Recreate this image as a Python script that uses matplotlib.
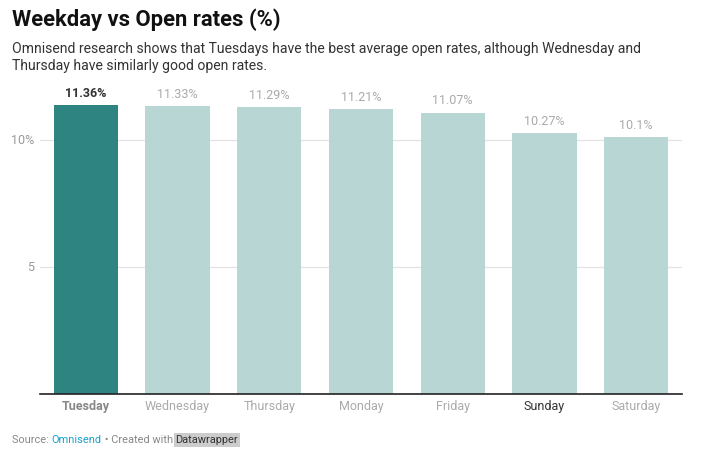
import matplotlib.pyplot as plt
import numpy as np

plt.rcParams['font.family'] = ['Roboto', 'DejaVu Sans']

days = ['Tuesday', 'Wednesday', 'Thursday', 'Monday', 'Friday', 'Sunday', 'Saturday']
open_rates = [11.36, 11.33, 11.29, 11.21, 11.07, 10.27, 10.1]
rate_labels = ['11.36%', '11.33%', '11.29%', '11.21%', '11.07%', '10.27%', '10.1%']
y_ticks = [5, 10]
y_tick_labels = ['5', '10%']

dark = '#2d8480'
light = '#b7d6d4'

fig = plt.figure(figsize=(7.25, 4.65), dpi=100)
ax = fig.add_axes([40 / 725, 71 / 465, 642 / 725, 299.7 / 465])

x = np.arange(len(days))
colors = [dark] + [light] * (len(days) - 1)
ax.bar(x, open_rates, width=0.7, color=colors, zorder=2)

ax.set_xlim(-0.5, len(days) - 0.5)
ax.set_ylim(0, 11.8)

# gridlines
for t in y_ticks:
    ax.axhline(t, color='#e3e3e3', linewidth=0.9, zorder=1)
ax.set_yticks([])
for t, lab in zip(y_ticks, y_tick_labels):
    ax.text(-0.56, t, lab, ha='right', va='center', fontsize=9, color='#999999')

# value labels
for i, (v, lab) in enumerate(zip(open_rates, rate_labels)):
    if i == 0:
        ax.text(i, v + 0.22, lab, ha='center', va='bottom', fontsize=9,
                color='#333333', fontweight='bold')
    else:
        ax.text(i, v + 0.22, lab, ha='center', va='bottom', fontsize=9,
                color='#aaaaaa')

# x labels
ax.set_xticks([])
for i, d in enumerate(days):
    if i == 0:
        c, w = '#888888', 'bold'
    elif d == 'Sunday':
        c, w = '#333333', 'normal'
    else:
        c, w = '#aaaaaa', 'normal'
    ax.text(i, -0.25, d, ha='center', va='top', fontsize=9, color=c, fontweight=w)

for s in ['top', 'right', 'left']:
    ax.spines[s].set_visible(False)
ax.spines['bottom'].set_color('#222222')
ax.spines['bottom'].set_linewidth(1.2)
ax.spines['bottom'].set_zorder(3)

# title and subtitle
fig.text(12 / 725, 1 - 20 / 465, 'Weekday vs Open rates (%)', fontsize=15.8,
         fontweight='bold', color='#111111', va='center', ha='left')
fig.text(12 / 725, 1 - 42 / 465,
         'Omnisend research shows that Tuesdays have the best average open rates, although Wednesday and\n'
         'Thursday have similarly good open rates.',
         fontsize=10.05, color='#333333', va='top', ha='left', linespacing=1.3)

# footer
t1 = fig.text(12 / 725, 1 - 440 / 465, 'Source: ', fontsize=7.9, color='#888888', va='center')
t2 = fig.text(0, 0, 'Omnisend', fontsize=7.9, color='#18a1cd', va='center')
t3 = fig.text(0, 0, ' \u2022 Created with ', fontsize=7.9, color='#888888', va='center')
fig.canvas.draw()
r = fig.canvas.get_renderer()
bb = t1.get_window_extent(r)
t2.set_position((bb.x1 / 725, 1 - 440 / 465))
bb = t2.get_window_extent(r)
t3.set_position((bb.x1 / 725, 1 - 440 / 465))
bb = t3.get_window_extent(r)
fig.text(bb.x1 / 725, 1 - 440 / 465, 'Datawrapper', fontsize=7.9, color='#333333', va='center',
         bbox=dict(facecolor='#cccccc', edgecolor='none', pad=1.2))

fig.savefig('out.png', dpi=100)
